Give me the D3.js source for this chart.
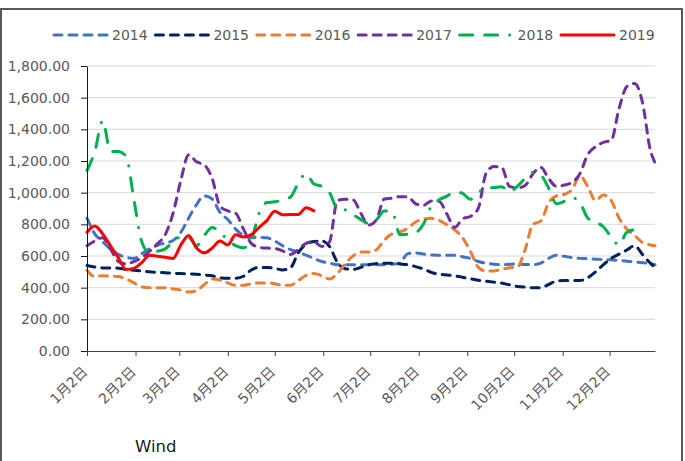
<!DOCTYPE html>
<html>
<head>
<meta charset="utf-8">
<script src="https://cdn.jsdelivr.net/npm/d3@7"></script>
<style>
  body { margin: 0; background: #fff; }
  svg { display: block; }
  text { font-family: "DejaVu Sans", "Noto Sans CJK SC", sans-serif; }
</style>
</head>
<body>
<svg id="chart" width="685" height="461"></svg>
<script>
// day offsets from Jan 2 (sampling grid for every series)
const days = [0,5,10,15,20,25,30,35,40,45,50,55,60,65,70,75,80,85,90,95,
  100,105,110,115,120,125,130,135,140,145,150,155,160,165,170,175,180,185,190,195,
  200,205,210,215,220,225,230,235,240,245,250,255,260,265,270,275,280,285,290,295,
  300,305,310,315,320,325,330,335,340,345,350,355,360,363];

const years = ["2014","2015","2016","2017","2018","2019"];

const s2014 = [840,740,690,645,610,592,585,615,645,668,
  683,698,750,840,925,980,960,875,830,770,
  730,715,718,715,695,665,640,625,605,585,
  565,555,545,545,545,545,545,545,545,548,
  555,615,620,612,606,605,605,604,595,585,
  565,555,548,545,548,550,547,545,555,585,
  605,598,590,585,583,580,578,576,572,567,
  563,558,552,545];

const s2015 = [540,530,525,525,523,515,510,505,500,497,
  494,491,489,487,484,480,475,462,460,460,
  472,512,528,528,522,512,525,620,675,692,
  695,660,560,520,515,528,545,552,555,555,
  550,545,533,518,497,485,480,475,466,456,
  447,441,435,429,418,408,403,400,400,420,
  442,445,445,445,462,500,545,585,612,638,
  665,610,555,530];

const s2016 = [510,470,475,473,470,455,430,405,400,400,
  400,392,385,372,382,420,455,448,430,415,
  415,425,430,430,425,415,415,445,478,490,
  475,455,490,550,600,625,625,640,700,740,
  752,775,815,832,838,825,797,765,715,630,
  530,505,506,515,526,530,640,800,820,935,
  980,990,1020,1105,1040,950,985,950,840,770,
  730,685,670,665];

const s2017 = [665,695,715,645,565,550,565,590,630,678,
  735,870,1080,1240,1195,1175,1090,915,885,870,
  770,680,655,650,648,632,610,640,680,690,
  660,690,950,958,955,870,795,830,960,965,
  975,975,930,920,948,945,865,780,835,850,
  900,1120,1165,1160,1040,1030,1045,1120,1160,1090,
  1040,1048,1065,1120,1240,1290,1318,1330,1530,1670,
  1690,1570,1270,1190];

const s2018 = [1140,1260,1455,1260,1260,1230,955,690,620,630,
  645,690,720,718,665,730,780,750,700,665,
  652,700,870,938,942,955,972,1060,1120,1055,
  1040,1000,900,892,862,830,805,830,885,880,
  735,738,748,800,915,955,978,1005,995,958,
  1000,1030,1032,1038,1005,1040,1090,1128,1110,1030,
  930,945,968,938,840,815,785,720,670,750,
  765,745];

const s2019 = [750,790,740,665,590,515,522,558,605,598,
  592,585,670,730,650,620,650,695,670,735,
  720,735,780,825,882,860,862,862,905,885];

const tickDays = [0,31,59,90,120,151,181,212,243,273,304,334];
const tickLabels = ["1月2日","2月2日","3月2日","4月2日","5月2日","6月2日",
  "7月2日","8月2日","9月2日","10月2日","11月2日","12月2日"];

const yTicks = [0,200,400,600,800,1000,1200,1400,1600,1800];

const colors = ["#4472C4","#002060","#ED7D31","#7030A0","#00B050","#FF0000"];
const dashes = ["8,7","8,7","8,7","8,7","13,12,13,12,0.1,12",null];

const seriesValues = [s2014, s2015, s2016, s2017, s2018, s2019];
const series = years.map((k, i) => ({
  key: k,
  color: colors[i],
  dash: dashes[i],
  values: seriesValues[i].map((v, j) => [days[j], v])
}));

const svg = d3.select("#chart");
const margin = { top: 66, right: 30, bottom: 110, left: 87 };
const width = 685 - margin.left - margin.right;
const height = 461 - margin.top - margin.bottom;

// outer frame
svg.append("rect")
  .attr("x", 1).attr("y", 9)
  .attr("width", 681).attr("height", 480)
  .attr("fill", "none")
  .attr("stroke", "#595959")
  .attr("stroke-width", 2);

const chart = svg.append("g")
  .attr("transform", `translate(${margin.left},${margin.top})`);

const x = d3.scaleLinear().domain([0, 363]).range([0, width]);
const y = d3.scaleLinear().domain([0, 1800]).range([height, 0]);

// gridlines
chart.append("g")
  .selectAll("line")
  .data(yTicks.filter(d => d > 0))
  .join("line")
    .attr("x1", 0).attr("x2", width)
    .attr("y1", d => y(d)).attr("y2", d => y(d))
    .attr("stroke", "#d9d9d9")
    .attr("stroke-width", 1);

// series lines
const line = d3.line()
  .x(d => x(d[0]))
  .y(d => y(d[1]))
  .curve(d3.curveMonotoneX);

chart.append("g")
  .selectAll("path")
  .data(series)
  .join("path")
    .attr("d", d => line(d.values))
    .attr("fill", "none")
    .attr("stroke", d => d.color)
    .attr("stroke-width", 3)
    .attr("stroke-linecap", d => d.dash ? "round" : "round")
    .attr("stroke-linejoin", "round")
    .attr("stroke-dasharray", d => d.dash);

// y axis
const yAxis = d3.axisLeft(y)
  .tickValues(yTicks)
  .tickSize(6)
  .tickSizeOuter(0)
  .tickPadding(11)
  .tickFormat(d3.format(",.2f"));

const yAxisG = chart.append("g").call(yAxis);
yAxisG.select(".domain").attr("stroke", "#1a1a1a");
yAxisG.selectAll(".tick line").attr("stroke", "#1a1a1a");
yAxisG.selectAll("text")
  .attr("fill", "#595959")
  .style("font-size", "14px");

// x axis
const xAxis = d3.axisBottom(x)
  .tickValues(tickDays)
  .tickSize(5)
  .tickSizeOuter(0)
  .tickFormat((d, i) => tickLabels[i]);

const xAxisG = chart.append("g")
  .attr("transform", `translate(0,${height})`)
  .call(xAxis);
xAxisG.select(".domain").attr("stroke", "#404040");
xAxisG.selectAll(".tick line").attr("stroke", "#404040");
xAxisG.selectAll("text")
  .attr("x", 0).attr("y", 0)
  .attr("dy", "0.35em")
  .attr("text-anchor", "end")
  .attr("transform", "translate(-2.5,18) rotate(-45)")
  .attr("fill", "#595959")
  .style("font-size", "14px");

// legend
const legend = svg.append("g").attr("transform", "translate(54,35)");
const item = legend.selectAll("g")
  .data(series)
  .join("g")
    .attr("transform", (d, i) => `translate(${i * 101.4},0)`);

item.append("line")
  .attr("x1", 0).attr("x2", 53)
  .attr("y1", 0).attr("y2", 0)
  .attr("stroke", d => d.color)
  .attr("stroke-width", 3)
  .attr("stroke-linecap", "round")
  .attr("stroke-dasharray", d => d.dash);

item.append("text")
  .attr("x", 58)
  .attr("dy", "0.35em")
  .attr("fill", "#595959")
  .style("font-size", "14px")
  .text(d => d.key);

// caption
svg.append("text")
  .attr("x", 135)
  .attr("y", 452)
  .attr("fill", "#1a1a1a")
  .style("font-size", "16.5px")
  .text("Wind");
</script>
</body>
</html>
